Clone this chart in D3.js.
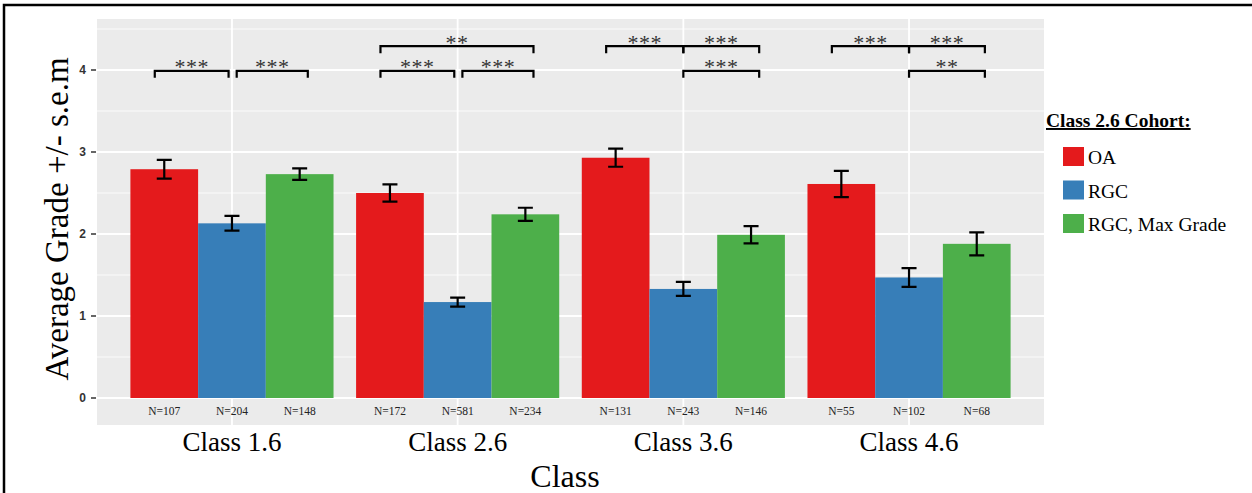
<!DOCTYPE html>
<html>
<head>
<meta charset="utf-8">
<script src="https://cdn.jsdelivr.net/npm/d3@7"></script>
<style>
  body { margin: 0; background: #fff; }
  svg { display: block; }
</style>
</head>
<body>
<div id="chart"></div>
<script>
const width = 1252;
const height = 493;

// data
const classes = ["Class 1.6", "Class 2.6", "Class 3.6", "Class 4.6"];
const cohorts = ["OA", "RGC", "RGC, Max Grade"];
const colors = ["#E41A1C", "#377EB8", "#4DAF4A"];

const meanOA = [2.79, 2.50, 2.93, 2.61];
const meanRGC = [2.13, 1.17, 1.33, 1.47];
const meanMax = [2.73, 2.24, 1.99, 1.88];
const semOA = [0.115, 0.105, 0.11, 0.16];
const semRGC = [0.09, 0.055, 0.085, 0.115];
const semMax = [0.07, 0.08, 0.105, 0.14];
const nOA = [107, 172, 131, 55];
const nRGC = [204, 581, 243, 102];
const nMax = [148, 234, 146, 68];

// significance brackets: class, from cohort, to cohort, row (0 = lower), label
const brackets = [
  ["Class 1.6", "OA", "RGC", 0, "***"],
  ["Class 1.6", "RGC", "RGC, Max Grade", 0, "***"],
  ["Class 2.6", "OA", "RGC", 0, "***"],
  ["Class 2.6", "RGC", "RGC, Max Grade", 0, "***"],
  ["Class 2.6", "OA", "RGC, Max Grade", 1, "**"],
  ["Class 3.6", "OA", "RGC", 1, "***"],
  ["Class 3.6", "RGC", "RGC, Max Grade", 1, "***"],
  ["Class 3.6", "RGC", "RGC, Max Grade", 0, "***"],
  ["Class 4.6", "OA", "RGC", 1, "***"],
  ["Class 4.6", "RGC", "RGC, Max Grade", 1, "***"],
  ["Class 4.6", "RGC", "RGC, Max Grade", 0, "**"]
];
const bracketRows = [3.99, 4.29];
const yTicks = [0, 1, 2, 3, 4];

const means = [meanOA, meanRGC, meanMax];
const sems = [semOA, semRGC, semMax];
const ns = [nOA, nRGC, nMax];

const data = [];
classes.forEach((c, i) => {
  cohorts.forEach((k, j) => {
    data.push({cls: c, cohort: k, mean: means[j][i], sem: sems[j][i], n: ns[j][i]});
  });
});

const panel = {left: 97, right: 1044, top: 19, bottom: 425};

const x = d3.scaleBand()
    .domain(classes)
    .range([panel.left, panel.right])
    .paddingInner(0.1)
    .paddingOuter(0.148);

const xs = d3.scaleBand()
    .domain(cohorts)
    .range([0, x.bandwidth()]);

const y = d3.scaleLinear()
    .domain([0, 4])
    .range([398, 70]);

const color = d3.scaleOrdinal()
    .domain(cohorts)
    .range(colors);

const svg = d3.select("#chart")
  .append("svg")
    .attr("width", width)
    .attr("height", height);

// panel background
svg.append("rect")
    .attr("x", panel.left)
    .attr("y", panel.top)
    .attr("width", panel.right - panel.left)
    .attr("height", panel.bottom - panel.top)
    .attr("fill", "#EBEBEB");

// gridlines
const grid = svg.append("g");
grid.selectAll("line.minor")
  .data([0.5, 1.5, 2.5, 3.5, 4.5])
  .join("line")
    .attr("class", "minor")
    .attr("x1", panel.left).attr("x2", panel.right)
    .attr("y1", d => y(d)).attr("y2", d => y(d))
    .attr("stroke", "#fff").attr("stroke-width", 0.8);

grid.selectAll("line.major")
  .data(yTicks)
  .join("line")
    .attr("class", "major")
    .attr("x1", panel.left).attr("x2", panel.right)
    .attr("y1", d => y(d)).attr("y2", d => y(d))
    .attr("stroke", "#fff").attr("stroke-width", 1.8);

grid.selectAll("line.vert")
  .data(classes)
  .join("line")
    .attr("class", "vert")
    .attr("x1", d => x(d) + x.bandwidth() / 2).attr("x2", d => x(d) + x.bandwidth() / 2)
    .attr("y1", panel.top).attr("y2", panel.bottom)
    .attr("stroke", "#fff").attr("stroke-width", 1.8);

// bars
svg.append("g")
  .selectAll("rect")
  .data(data)
  .join("rect")
    .attr("x", d => x(d.cls) + xs(d.cohort))
    .attr("y", d => y(d.mean))
    .attr("width", xs.bandwidth())
    .attr("height", d => y(0) - y(d.mean))
    .attr("fill", d => color(d.cohort));

// error bars
const err = svg.append("g")
    .attr("stroke", "#000")
    .attr("stroke-width", 2.2)
    .attr("fill", "none");

const cap = 7.5;
err.selectAll("path")
  .data(data)
  .join("path")
    .attr("d", d => {
      const cx = x(d.cls) + xs(d.cohort) + xs.bandwidth() / 2;
      const t = y(d.mean + d.sem), b = y(d.mean - d.sem);
      return `M${cx - cap},${t}H${cx + cap}M${cx},${t}V${b}M${cx - cap},${b}H${cx + cap}`;
    });

// N labels
svg.append("g")
  .selectAll("text")
  .data(data)
  .join("text")
    .attr("x", d => x(d.cls) + xs(d.cohort) + xs.bandwidth() / 2)
    .attr("y", 415)
    .attr("text-anchor", "middle")
    .style("font-family", "'Liberation Serif', 'Times New Roman', serif")
    .style("font-size", "11.5px")
    .attr("fill", "#222")
    .text(d => `N=${d.n}`);

// significance brackets
const touching = ["Class 3.6", "Class 4.6"];
function endLeft(c, k) {
  const f = k === "OA" ? 0.36 : (touching.includes(c) ? 0.5 : 0.57);
  return x(c) + xs(k) + xs.bandwidth() * f;
}
function endRight(c, k) {
  const f = k === "RGC" ? (touching.includes(c) ? 0.5 : 0.45) : 0.62;
  return x(c) + xs(k) + xs.bandwidth() * f;
}

const br = svg.append("g");
br.selectAll("path")
  .data(brackets)
  .join("path")
    .attr("d", d => {
      const x1 = endLeft(d[0], d[1]), x2 = endRight(d[0], d[2]);
      const yy = y(bracketRows[d[3]]);
      return `M${x1},${yy + 7}V${yy}H${x2}V${yy + 7}`;
    })
    .attr("fill", "none")
    .attr("stroke", "#000")
    .attr("stroke-width", 2.2);

br.selectAll("text")
  .data(brackets)
  .join("text")
    .attr("x", d => (endLeft(d[0], d[1]) + endRight(d[0], d[2])) / 2)
    .attr("y", d => y(bracketRows[d[3]]) + 3.5)
    .attr("text-anchor", "middle")
    .style("font-family", "'Liberation Serif', 'Times New Roman', serif")
    .style("font-size", "22px")
    .style("letter-spacing", "0.5px")
    .attr("fill", "#333")
    .text(d => d[4]);

// y axis
const yAxis = svg.append("g");
yAxis.selectAll("line")
  .data(yTicks)
  .join("line")
    .attr("x1", panel.left - 6).attr("x2", panel.left - 1)
    .attr("y1", d => y(d)).attr("y2", d => y(d))
    .attr("stroke", "#333").attr("stroke-width", 1.5);

yAxis.selectAll("text")
  .data(yTicks)
  .join("text")
    .attr("x", panel.left - 11)
    .attr("y", d => y(d))
    .attr("dy", "0.35em")
    .attr("text-anchor", "end")
    .style("font-family", "'Liberation Sans', Arial, sans-serif")
    .style("font-weight", "bold")
    .style("font-size", "12px")
    .attr("fill", "#333")
    .text(d => d);

// x labels
svg.append("g")
  .selectAll("text")
  .data(classes)
  .join("text")
    .attr("x", d => x(d) + x.bandwidth() / 2)
    .attr("y", 451)
    .attr("text-anchor", "middle")
    .style("font-family", "'Liberation Serif', 'Times New Roman', serif")
    .style("font-size", "27px")
    .text(d => d);

svg.append("text")
    .attr("x", 565)
    .attr("y", 487)
    .attr("text-anchor", "middle")
    .style("font-family", "'Liberation Serif', 'Times New Roman', serif")
    .style("font-size", "32px")
    .text("Class");

svg.append("text")
    .attr("transform", "translate(68,219) rotate(-90)")
    .attr("text-anchor", "middle")
    .style("font-family", "'Liberation Serif', 'Times New Roman', serif")
    .style("font-size", "33px")
    .text("Average Grade +/- s.e.m");

// legend
const legend = svg.append("g");
legend.append("text")
    .attr("x", 1046)
    .attr("y", 127)
    .style("font-family", "'Liberation Serif', 'Times New Roman', serif")
    .style("font-weight", "bold")
    .style("font-size", "19.5px")
    .style("text-decoration", "underline")
    .text("Class 2.6 Cohort:");

const items = legend.selectAll("g.item")
  .data(cohorts)
  .join("g")
    .attr("class", "item")
    .attr("transform", (d, i) => `translate(1063,${147 + i * 33.5})`);

items.append("rect")
    .attr("width", 21)
    .attr("height", 19)
    .attr("fill", d => color(d));

items.append("text")
    .attr("x", 25)
    .attr("y", 17)
    .style("font-family", "'Liberation Serif', 'Times New Roman', serif")
    .style("font-size", "19.5px")
    .text(d => d);

// frame
svg.append("path")
    .attr("d", `M4,${height}V5H${width}`)
    .attr("fill", "none")
    .attr("stroke", "#000")
    .attr("stroke-width", 2.5);
</script>
</body>
</html>
